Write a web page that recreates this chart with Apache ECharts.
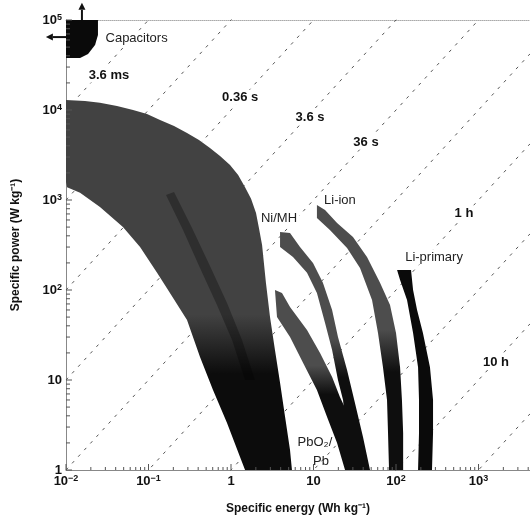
<!DOCTYPE html>
<html>
<head>
<meta charset="utf-8">
<script src="https://cdn.jsdelivr.net/npm/echarts@6/dist/echarts.min.js"></script>
<style>
html,body{margin:0;padding:0;background:#fff;}
#chart{width:530px;height:517px;}
</style>
</head>
<body>
<div id="chart"></div>
<script>
// axis ticks (base^exponent)
var energyTicks = [0.01, 0.1, 1, 10, 100, 1000];
var energyTickLabels = ['10^−2', '10^−1', '1', '10', '10^2', '10^3'];
var powerTicks = [1, 10, 100, 1000, 10000, 100000];
var powerTickLabels = ['1', '10', '10^2', '10^3', '10^4', '10^5'];
var minorSteps = [2, 3, 4, 5, 6, 7, 8, 9];
var energyMin = 0.01, energyMax = 4207;

// discharge-time lines (hours)
var hours = [1e-6, 1e-5, 1e-4, 1e-3, 1e-2, 1e-1, 1, 10, 100, 1000];

// domains, [specific energy Wh/kg, specific power W/kg]
var capacitors = [[0.01,100000],[0.0244,100000],[0.0244,68000],[0.0225,52700],[0.0185,41900],[0.0148,37800],[0.01,37800]];
var bigDomain = [
  [0.01,12900],[0.017,12590],[0.0258,12000],[0.0415,11070],[0.065,10000],[0.0959,9030],[0.138,7740],[0.204,6640],
  [0.293,5550],[0.409,4640],[0.556,3780],[0.736,3080],[0.973,2450],[1.22,1900],[1.48,1390],[1.75,1030],[2.01,718],
  [2.18,489],[2.38,316],[2.65,120],[2.97,50],[3.41,21.5],[3.93,9.3],[4.52,3.9],[5.19,1.67],[5.48,1],
  [1.48,1],[1.29,1.39],[0.895,3.33],[0.605,7.74],[0.421,18],[0.293,46.4],[0.182,92.7],[0.127,155],
  [0.079,301],[0.049,501],[0.0258,836],[0.0148,1200],[0.0103,1390],[0.01,1580]
];
var bigStreak = [[0.163,1137],[0.204,1227],[0.337,489],[0.556,185],[0.895,71.7],[1.36,27.8],[1.95,10],
  [1.48,10],[1.03,27.8],[0.676,68.1],[0.421,176],[0.262,464]];
var niMH = [[3.93,441],[5.19,430],[6.86,301],[9.86,200],[13.0,120],[16.8,60],[19.8,30],[25.5,12.9],[31.8,5.55],[39.8,2.33],[48.4,1],
  [27.7,1],[22.8,6.0],[19.8,10],[16.8,21.5],[13.8,43],[11.0,92.7],[8.34,155],[5.64,233],[3.93,301]];
var pbLead = [[3.41,100],[4.15,92.7],[5.19,64.7],[8.34,35.9],[12.0,20],[16.8,10.8],[20.9,6.47],[24.8,4.64],[29.3,1],
  [24.1,1],[19.3,2.0],[14.6,3.88],[11.0,7.74],[7.46,15.5],[5.19,30],[3.61,50]];
var liIon = [[11.0,880],[13.8,774],[19.3,555],[30.1,388],[44.5,233],[64.0,120],[84.6,68.1],[100,33.3],[112,13.9],[118,6.0],[122,2.58],[122,1],
  [82.3,1],[80.0,2.58],[77.8,6.0],[69.5,13.9],[60.5,33.3],[51.2,77.4],[36.6,176],[25.5,293],[15.8,464],[11.0,631]];
var liPrimary = [[103,167],[152,167],[161,100],[180,60],[212,33.3],[258,13.9],[281,6.0],[281,2.58],[273,1],
  [185,1],[190,2.58],[190,6.0],[185,13.9],[161,33.3],[136,77.4],[112,129]];

// arrows leaving the plot from the capacitor corner
var arrowUp = [[0.0156,100000],[0.0156,155000]];
var arrowLeft = [[0.01,64600],[0.0057,64600]];

// labels
var timeLabels = ['3.6 ms', '0.36 s', '3.6 s', '36 s', '1 h', '10 h'];
var timeLabelE = [0.0332, 1.29, 9.08, 43.3, 667, 1630];
var timeLabelP = [24500, 13900, 8360, 4410, 718, 15.8];
var deviceLabels = ['Capacitors', 'Ni/MH', 'Li-ion', 'Li-primary', 'PbO₂/', 'Pb'];
var deviceLabelE = [0.0285, 3.82, 20.9, 289, 10.4, 12.3];
var deviceLabelP = [63100, 631, 1000, 233, 2.0, 1.26];

var FONT = '"Liberation Sans", Arial, sans-serif';

function tickLabel(ticks, labels) {
  return function (v) {
    for (var i = 0; i < ticks.length; i++) {
      if (Math.abs(Math.log10(ticks[i]) - Math.log10(v)) < 1e-6) {
        var parts = labels[i].split('^');
        return parts.length > 1 ? '{n|' + parts[0] + '}{s|' + parts[1] + '}' : '{n|' + parts[0] + '}';
      }
    }
    return '';
  };
}
var tickRich = {
  n: {fontSize: 13, fontWeight: 'bold', lineHeight: 14, verticalAlign: 'bottom', color: '#111', fontFamily: FONT},
  s: {fontSize: 9, fontWeight: 'bold', lineHeight: 4, verticalAlign: 'top', color: '#111', fontFamily: FONT}
};

function fade(top, mid, bottom) {
  return new echarts.graphic.LinearGradient(0, 0, 0, 1, [
    {offset: 0, color: top}, {offset: mid, color: top}, {offset: Math.min(1, mid + 0.16), color: bottom}, {offset: 1, color: bottom}
  ]);
}

function region(name, pts, fill, z) {
  return {
    type: 'custom', name: name, data: pts, encode: {x: 0, y: 1}, silent: true, z: z || 5,
    renderItem: function (params, api) {
      if (params.dataIndex !== 0) return null;
      var poly = pts.map(function (p) { return api.coord(p); });
      return {type: 'polygon', shape: {points: poly}, style: {fill: fill, stroke: null}};
    }
  };
}

function arrow(pts) {
  return {
    type: 'custom', data: pts, encode: {x: 0, y: 1}, silent: true, z: 6,
    renderItem: function (params, api) {
      if (params.dataIndex !== 0) return null;
      var a = api.coord(pts[0]), b = api.coord(pts[1]);
      var dx = b[0] - a[0], dy = b[1] - a[1], len = Math.sqrt(dx * dx + dy * dy);
      var ux = dx / len, uy = dy / len, h = 7, w = 3.5;
      var bx = b[0] - ux * h, by = b[1] - uy * h;
      return {type: 'group', children: [
        {type: 'line', shape: {x1: a[0], y1: a[1], x2: bx, y2: by}, style: {stroke: '#111', lineWidth: 2}},
        {type: 'polygon', shape: {points: [[b[0], b[1]], [bx - uy * w, by + ux * w], [bx + uy * w, by - ux * w]]}, style: {fill: '#111'}}
      ]};
    }
  };
}

function labels(texts, es, ps, style) {
  return {
    type: 'custom', data: es.map(function (e, i) { return [e, ps[i]]; }), encode: {x: 0, y: 1}, silent: true, z: 8,
    renderItem: function (params, api) {
      var p = api.coord([api.value(0), api.value(1)]);
      var s = Object.assign({text: texts[params.dataIndex], x: 0, y: 0}, style);
      if (texts[params.dataIndex] === 'Capacitors') s.align = 'left';
      if (texts[params.dataIndex] === 'PbO₂/' || texts[params.dataIndex] === 'Pb') s.backgroundColor = null;
      return {type: 'text', x: p[0], y: p[1], style: s};
    }
  };
}

// small inward ticks along the left and bottom axes
var axisTicks = {
  type: 'custom', data: [[1, 1]], encode: {x: 0, y: 1}, silent: true, z: 7,
  renderItem: function (params, api) {
    var kids = [];
    energyTicks.forEach(function (d) {
      [1].concat(minorSteps).forEach(function (s) {
        var v = d * s;
        if (v > energyMax) return;
        var p = api.coord([v, 1]), l = s === 1 ? 6 : 3;
        kids.push({type: 'line', shape: {x1: p[0], y1: p[1], x2: p[0], y2: p[1] - l}, style: {stroke: '#555', lineWidth: 1}});
      });
    });
    powerTicks.forEach(function (d) {
      [1].concat(minorSteps).forEach(function (s) {
        var v = d * s;
        if (v > 100000) return;
        var p = api.coord([energyMin, v]), l = s === 1 ? 6 : 4;
        kids.push({type: 'line', shape: {x1: p[0], y1: p[1], x2: p[0] + l, y2: p[1]}, style: {stroke: '#555', lineWidth: 1}});
      });
    });
    return {type: 'group', children: kids};
  }
};

var timeLines = hours.map(function (t) {
  return {
    type: 'line', data: [[energyMin, energyMin / t], [energyMax, energyMax / t]],
    symbol: 'none', silent: true, z: 2, clip: true, animation: false,
    lineStyle: {color: '#555', width: 1, type: [3, 6]}
  };
});

var chart = echarts.init(document.getElementById('chart'));
var option = {
  animation: false,
  backgroundColor: '#fff',
  textStyle: {fontFamily: FONT},
  grid: {left: 66, right: 0, top: 20, bottom: 47, containLabel: false, outerBoundsMode: 'none'},
  xAxis: [{
    type: 'log', logBase: 10, min: energyMin, max: energyMax,
    axisLine: {show: true, lineStyle: {color: '#888', width: 1}},
    axisTick: {show: false}, splitLine: {show: false}, minorTick: {show: false},
    axisLabel: {formatter: tickLabel(energyTicks, energyTickLabels), rich: tickRich, margin: 4, showMaxLabel: false},
    name: 'Specific energy (Wh kg⁻¹)', nameLocation: 'middle', nameGap: 33,
    nameTextStyle: {fontSize: 12, fontWeight: 'bold', color: '#111', fontFamily: FONT}
  }, {
    type: 'log', logBase: 10, min: energyMin, max: energyMax, position: 'top',
    axisLine: {show: true, lineStyle: {color: '#aaa', width: 1, type: 'dotted'}},
    axisTick: {show: false}, axisLabel: {show: false}, splitLine: {show: false}
  }],
  yAxis: {
    type: 'log', logBase: 10, min: 1, max: 100000,
    axisLine: {show: true, lineStyle: {color: '#888', width: 1}},
    axisTick: {show: false}, splitLine: {show: false},
    axisLabel: {formatter: tickLabel(powerTicks, powerTickLabels), rich: tickRich, margin: 4},
    name: 'Specific power (W kg⁻¹)', nameLocation: 'middle', nameGap: 44, nameRotate: 90,
    nameTextStyle: {fontSize: 12, fontWeight: 'bold', color: '#111', fontFamily: FONT}
  },
  series: timeLines.concat([
    region('Big domain', bigDomain, fade('#424242', 0.58, '#0c0c0c')),
    region('Big domain streak', bigStreak, 'rgba(0,0,0,0.3)', 5),
    region('Capacitors', capacitors, '#0a0a0a'),
    region('Ni/MH', niMH, fade('#4d4d4d', 0.45, '#0e0e0e')),
    region('PbO2/Pb', pbLead, fade('#4d4d4d', 0.42, '#0e0e0e')),
    region('Li-ion', liIon, fade('#4d4d4d', 0.47, '#0e0e0e')),
    region('Li-primary', liPrimary, '#0a0a0a'),
    arrow(arrowUp),
    arrow(arrowLeft),
    axisTicks,
    labels(timeLabels, timeLabelE, timeLabelP, {fontSize: 13, fontWeight: 'bold', fill: '#111', fontFamily: FONT, align: 'center', verticalAlign: 'middle', backgroundColor: '#fff', padding: [1, 2]}),
    labels(deviceLabels, deviceLabelE, deviceLabelP, {fontSize: 13, fill: '#222', fontFamily: FONT, align: 'center', verticalAlign: 'middle', backgroundColor: '#fff', padding: [1, 2]})
  ])
};
chart.setOption(option);
</script>
</body>
</html>
